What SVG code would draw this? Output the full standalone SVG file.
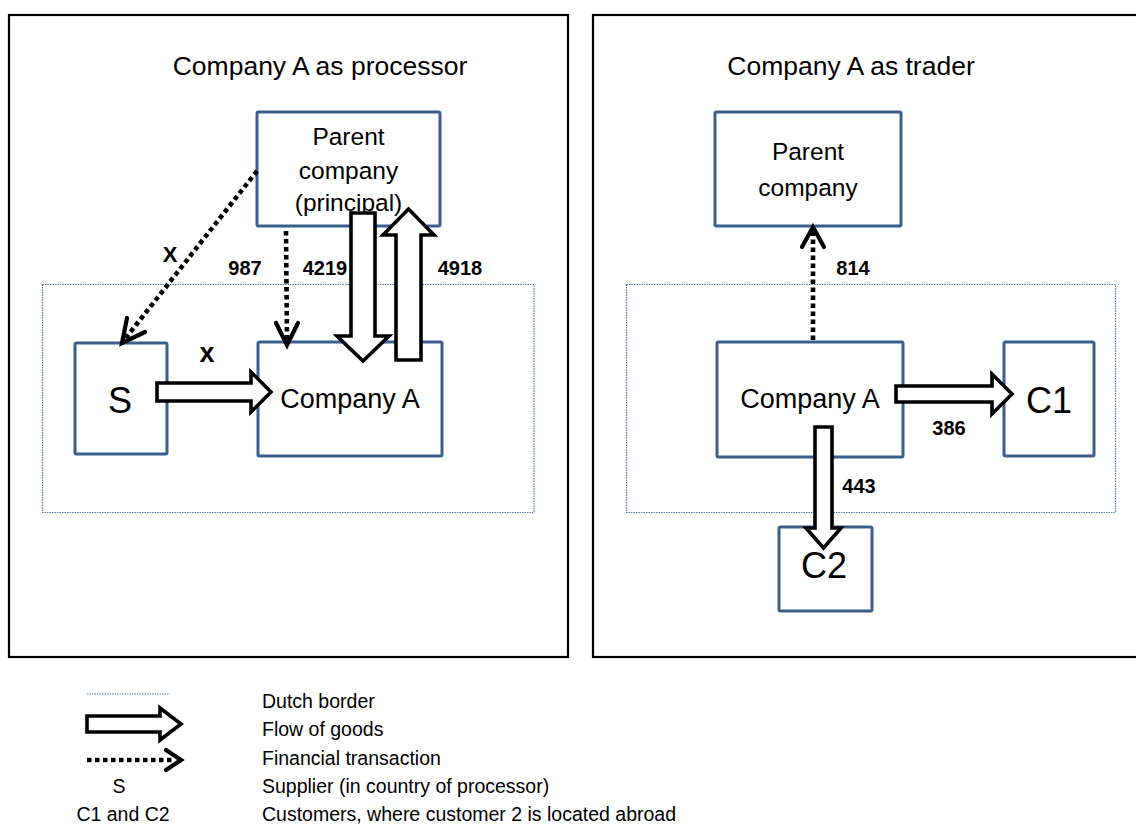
<svg xmlns="http://www.w3.org/2000/svg" width="1136" height="826" viewBox="0 0 1136 826">
<defs>
<style>
.panel{fill:#fff;stroke:#000;stroke-width:2.2}
.node{fill:#fff;stroke:#3A5F8E;stroke-width:3}
.border{fill:none;stroke:#5B7BA8;stroke-width:1.2;stroke-dasharray:1.5 1}
.goods{fill:#fff;stroke:#000;stroke-width:3.6;stroke-linejoin:miter}
.fin{fill:none;stroke:#000;stroke-width:4.6;stroke-dasharray:4.5 3.5}
.head{fill:none;stroke:#000;stroke-width:4.2;stroke-linecap:round;stroke-linejoin:miter}
text{font-family:"Liberation Sans",Arial,sans-serif;fill:#000}
.title{font-size:26.5px;text-anchor:middle}
.lbl{font-size:24.5px;text-anchor:middle}
.coA{font-size:27px;text-anchor:middle}
.big{font-size:36px;text-anchor:middle}
.num{font-size:20px;font-weight:bold;text-anchor:middle}
.leg{font-size:19.5px}
</style>
</defs>
<rect width="1136" height="826" fill="#fff"/>
<g id="panel-processor">
<rect class="panel" x="9" y="15" width="559" height="642"/>
<text class="title" x="320" y="75">Company A as processor</text>
</g>
<g id="panel-trader">
<rect class="panel" x="593" y="15" width="565" height="642"/>
<text class="title" x="851" y="75">Company A as trader</text>
</g>
<g id="dutch-border-left"><rect class="border" x="42.5" y="284.5" width="491.5" height="228"/></g>
<g id="dutch-border-right"><rect class="border" x="626.5" y="284.5" width="489" height="228"/></g>
<g id="parent-processor">
<rect class="node" x="257" y="112" width="183" height="114" rx="1.5"/>
<text class="lbl" x="348.5" y="145">Parent</text>
<text class="lbl" x="348.5" y="179">company</text>
<text class="lbl" x="348.5" y="211">(principal)</text>
</g>
<g id="supplier">
<rect class="node" x="75" y="343" width="92" height="111" rx="1.5"/>
<text class="big" x="120" y="413">S</text>
</g>
<g id="companyA-processor">
<rect class="node" x="258" y="342" width="184" height="114" rx="1.5"/>
<text class="coA" x="350" y="408">Company A</text>
</g>
<g id="parent-trader">
<rect class="node" x="715" y="112" width="186" height="114" rx="1.5"/>
<text class="lbl" x="808" y="160">Parent</text>
<text class="lbl" x="808" y="196">company</text>
</g>
<g id="companyA-trader">
<rect class="node" x="717" y="342" width="186" height="115" rx="1.5"/>
<text class="coA" x="810" y="408">Company A</text>
</g>
<g id="C1">
<rect class="node" x="1004" y="342" width="90" height="114" rx="1.5"/>
<text class="big" x="1049" y="413">C1</text>
</g>
<g id="C2">
<rect class="node" x="779" y="527" width="93" height="84" rx="1.5"/>
<text class="big" x="824" y="578">C2</text>
</g>
<g id="connectors">
<line class="fin" x1="257" y1="171" x2="125" y2="339"/>
<polyline class="head" points="127,318 122,343 145,332"/>
<line class="fin" x1="286" y1="231" x2="287" y2="341"/>
<polyline class="head" points="276,323 287,345 298,323"/>
<polygon class="goods" points="157,383 251,383 251,372 271,392 251,412 251,401 157,401"/>
<polygon class="goods" points="351,213 375,213 375,336 389,336 363,361 337,336 351,336"/>
<polygon class="goods" points="396,360 396,235 383,235 408.5,209 434,235 421,235 421,360"/>
<line class="fin" x1="813" y1="340" x2="813" y2="232"/>
<polyline class="head" points="802,247 813,227 824,247"/>
<polygon class="goods" points="896,386 992,386 992,374 1012,394 992,414 992,402 896,402"/>
<polygon class="goods" points="815,427 832,427 832,528 841,528 823.5,548 806,528 815,528"/>
<text class="num" x="170" y="262" style="font-size:22px">X</text>
<text class="num" x="207" y="362" style="font-size:27px">x</text>
<text class="num" x="245" y="275">987</text>
<text class="num" x="325" y="275">4219</text>
<text class="num" x="460" y="275">4918</text>
<text class="num" x="853" y="275">814</text>
<text class="num" x="949" y="435">386</text>
<text class="num" x="859" y="493">443</text>
</g>
<g id="legend">
<line class="border" x1="87" y1="694" x2="170" y2="694"/>
<polygon class="goods" points="87,716 160,716 160,708 181,724 160,740 160,732 87,732"/>
<line class="fin" x1="87" y1="760" x2="172" y2="760"/>
<polyline class="head" points="166,750 181,760 166,770"/>
<text class="leg" x="119" y="793" text-anchor="middle">S</text>
<text class="leg" x="123" y="821" text-anchor="middle">C1 and C2</text>
<text class="leg" x="262" y="708">Dutch border</text>
<text class="leg" x="262" y="736">Flow of goods</text>
<text class="leg" x="262" y="765">Financial transaction</text>
<text class="leg" x="262" y="793">Supplier (in country of processor)</text>
<text class="leg" x="262" y="821">Customers, where customer 2 is located abroad</text>
</g>
</svg>
